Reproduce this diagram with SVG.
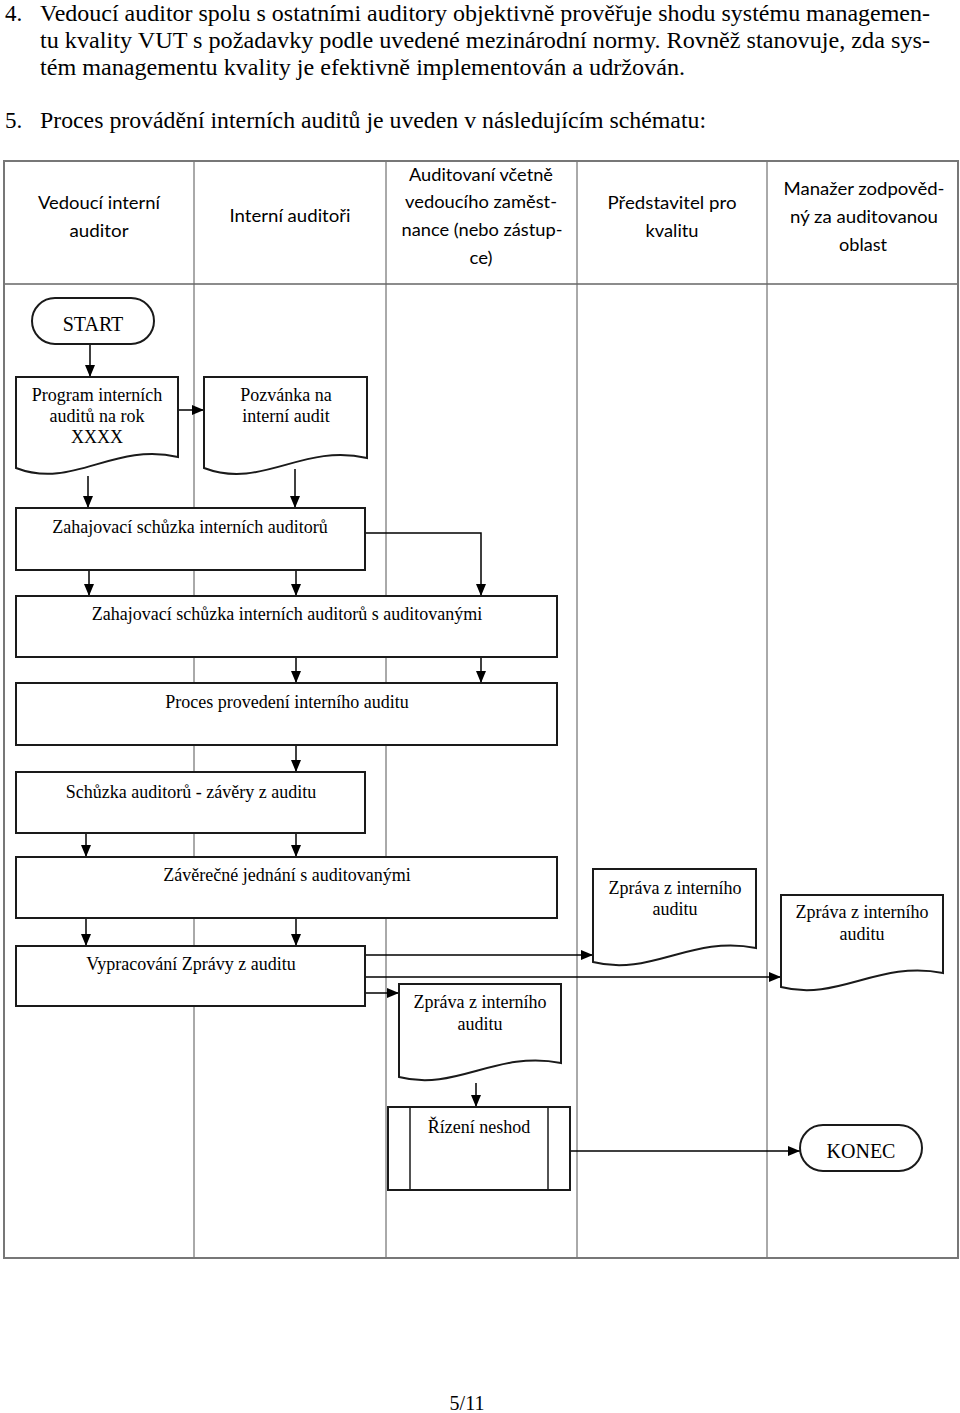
<svg xmlns="http://www.w3.org/2000/svg" width="960" height="1413" viewBox="0 0 960 1413">
<style>
.body{font-family:"Liberation Serif","Times New Roman",serif;font-size:23px;fill:#000}
.hd{font-family:Lato,"Liberation Sans",sans-serif;font-size:17px;fill:#000;text-anchor:middle}
.t{font-family:"Liberation Serif","Times New Roman",serif;font-size:18px;fill:#000;text-anchor:middle}
.tb{font-family:"Liberation Serif","Times New Roman",serif;font-size:20px;fill:#000;text-anchor:middle}
.lane{stroke:#555;stroke-width:1;fill:none}
.frame{stroke:#777;stroke-width:2;fill:none}
.box{fill:#fff;stroke:#1a1a1a;stroke-width:2}
.cn{stroke:#000;stroke-width:1.5;fill:none;marker-end:url(#ah)}
</style>
<defs>
<marker id="ah" markerUnits="userSpaceOnUse" markerWidth="12" markerHeight="10" refX="12" refY="5" orient="auto">
<path d="M0,0 L12,5 L0,10 Z" fill="#000"/>
</marker>
</defs>
<rect width="960" height="1413" fill="#fff"/>

<g id="intro">
<text class="body" x="5" y="21">4.</text>
<text class="body" x="40" y="21" textLength="890" lengthAdjust="spacingAndGlyphs">Vedoucí auditor spolu s ostatními auditory objektivně prověřuje shodu systému managemen-</text>
<text class="body" x="40" y="48" textLength="890" lengthAdjust="spacingAndGlyphs">tu kvality VUT s požadavky podle uvedené mezinárodní normy. Rovněž stanovuje, zda sys-</text>
<text class="body" x="40" y="75" textLength="645" lengthAdjust="spacingAndGlyphs">tém managementu kvality je efektivně implementován a udržován.</text>
<text class="body" x="5" y="128">5.</text>
<text class="body" x="40" y="128" textLength="666" lengthAdjust="spacingAndGlyphs">Proces provádění interních auditů je uveden v následujícím schématu:</text>
</g>

<g id="table">
<line class="lane" x1="194" y1="161" x2="194" y2="1258"/>
<line class="lane" x1="386" y1="161" x2="386" y2="1258"/>
<line class="lane" x1="577" y1="161" x2="577" y2="1258"/>
<line class="lane" x1="767" y1="161" x2="767" y2="1258"/>
<line x1="4" y1="284" x2="958" y2="284" stroke="#666" stroke-width="1.5"/>
<rect class="frame" x="4" y="161" width="954" height="1097"/>
</g>

<g id="headers">
<text class="hd" x="99" y="209" textLength="122" lengthAdjust="spacingAndGlyphs">Vedoucí interní</text>
<text class="hd" x="99" y="237" textLength="59" lengthAdjust="spacingAndGlyphs">auditor</text>
<text class="hd" x="290" y="222" textLength="121" lengthAdjust="spacingAndGlyphs">Interní auditoři</text>
<text class="hd" x="481" y="181" textLength="144" lengthAdjust="spacingAndGlyphs">Auditovaní včetně</text>
<text class="hd" x="481" y="208" textLength="152" lengthAdjust="spacingAndGlyphs">vedoucího zaměst-</text>
<text class="hd" x="482" y="236" textLength="161" lengthAdjust="spacingAndGlyphs">nance (nebo zástup-</text>
<text class="hd" x="481" y="264" textLength="23" lengthAdjust="spacingAndGlyphs">ce)</text>
<text class="hd" x="672" y="209" textLength="129" lengthAdjust="spacingAndGlyphs">Představitel pro</text>
<text class="hd" x="672" y="237" textLength="53" lengthAdjust="spacingAndGlyphs">kvalitu</text>
<text class="hd" x="864" y="195" textLength="161" lengthAdjust="spacingAndGlyphs">Manažer zodpověd-</text>
<text class="hd" x="864" y="223" textLength="148" lengthAdjust="spacingAndGlyphs">ný za auditovanou</text>
<text class="hd" x="863" y="251" textLength="48" lengthAdjust="spacingAndGlyphs">oblast</text>
</g>

<g id="connectors">
<line class="cn" x1="90" y1="345" x2="90" y2="377"/>
<line class="cn" x1="178" y1="410" x2="204" y2="410"/>
<line class="cn" x1="88" y1="476" x2="88" y2="508"/>
<line class="cn" x1="295" y1="469" x2="295" y2="508"/>
<polyline class="cn" points="365,533 481,533 481,596"/>
<line class="cn" x1="89" y1="570" x2="89" y2="596"/>
<line class="cn" x1="296" y1="570" x2="296" y2="596"/>
<line class="cn" x1="296" y1="657" x2="296" y2="683"/>
<line class="cn" x1="481" y1="657" x2="481" y2="683"/>
<line class="cn" x1="296" y1="745" x2="296" y2="772"/>
<line class="cn" x1="86" y1="833" x2="86" y2="857"/>
<line class="cn" x1="296" y1="833" x2="296" y2="857"/>
<line class="cn" x1="86" y1="918" x2="86" y2="946"/>
<line class="cn" x1="296" y1="918" x2="296" y2="946"/>
<line class="cn" x1="365" y1="955" x2="593" y2="955"/>
<line class="cn" x1="365" y1="977" x2="781" y2="977"/>
<line class="cn" x1="365" y1="993" x2="399" y2="993"/>
<line class="cn" x1="476" y1="1083" x2="476" y2="1107"/>
<line class="cn" x1="570" y1="1151" x2="800" y2="1151"/>
</g>

<g id="start">
<rect class="box" x="32" y="298" width="122" height="46" rx="23" ry="23"/>
<text class="tb" x="93" y="331">START</text>
</g>

<g id="program">
<path class="box" d="M16,377 H178 V457 C113,442 73,490 16,468 Z"/>
<text class="t" x="97" y="401">Program interních</text>
<text class="t" x="97" y="422">auditů na rok</text>
<text class="t" x="97" y="443">XXXX</text>
</g>

<g id="pozvanka">
<path class="box" d="M204,377 H367 V458 C302,443 262,490 204,468 Z"/>
<text class="t" x="286" y="401">Pozvánka na</text>
<text class="t" x="286" y="422">interní audit</text>
</g>

<g id="zahajovaci1">
<rect class="box" x="16" y="508" width="349" height="62"/>
<text class="t" x="190" y="533">Zahajovací schůzka interních auditorů</text>
</g>

<g id="zahajovaci2">
<rect class="box" x="16" y="596" width="541" height="61"/>
<text class="t" x="287" y="620">Zahajovací schůzka interních auditorů s auditovanými</text>
</g>

<g id="proces">
<rect class="box" x="16" y="683" width="541" height="62"/>
<text class="t" x="287" y="708">Proces provedení interního auditu</text>
</g>

<g id="schuzka">
<rect class="box" x="16" y="772" width="349" height="61"/>
<text class="t" x="191" y="798">Schůzka auditorů - závěry z auditu</text>
</g>

<g id="zaverecne">
<rect class="box" x="16" y="857" width="541" height="61"/>
<text class="t" x="287" y="881">Závěrečné jednání s auditovanými</text>
</g>

<g id="vypracovani">
<rect class="box" x="16" y="946" width="349" height="60"/>
<text class="t" x="191" y="970">Vypracování Zprávy z auditu</text>
</g>

<g id="zprava-kvalita">
<path class="box" d="M593,869 H756 V948 C691,935 651,977 593,962 Z"/>
<text class="t" x="675" y="894">Zpráva z interního</text>
<text class="t" x="675" y="915">auditu</text>
</g>

<g id="zprava-manazer">
<path class="box" d="M781,895 H943 V973 C878,960 838,1002 781,987 Z"/>
<text class="t" x="862" y="918">Zpráva z interního</text>
<text class="t" x="862" y="940">auditu</text>
</g>

<g id="zprava-auditovani">
<path class="box" d="M399,984 H561 V1063 C496,1050 456,1092 399,1077 Z"/>
<text class="t" x="480" y="1008">Zpráva z interního</text>
<text class="t" x="480" y="1030">auditu</text>
</g>

<g id="rizeni">
<rect class="box" x="388" y="1107" width="182" height="83"/>
<line x1="410" y1="1107" x2="410" y2="1190" stroke="#1a1a1a" stroke-width="1.5"/>
<line x1="548" y1="1107" x2="548" y2="1190" stroke="#1a1a1a" stroke-width="1.5"/>
<text class="t" x="479" y="1133">Řízení neshod</text>
</g>

<g id="konec">
<rect class="box" x="800" y="1125" width="122" height="46" rx="23" ry="23"/>
<text class="tb" x="861" y="1158">KONEC</text>
</g>

<g id="footer">
<text class="tb" x="467" y="1410">5/11</text>
</g>
</svg>
